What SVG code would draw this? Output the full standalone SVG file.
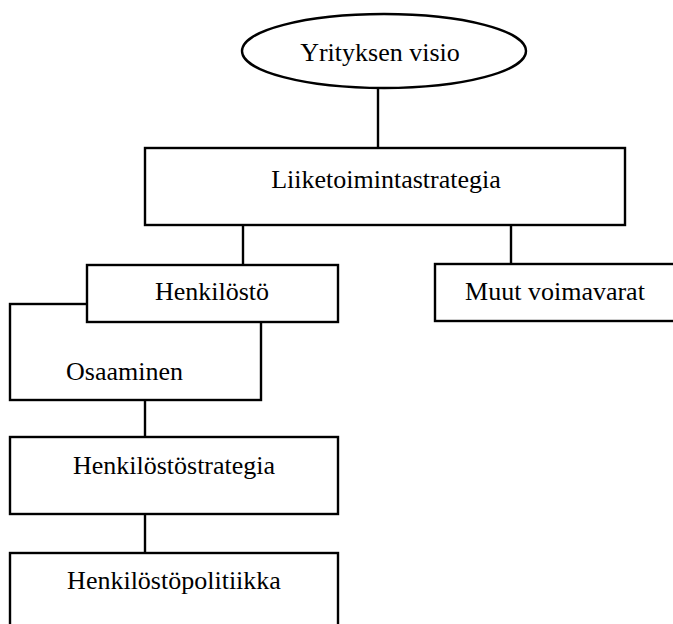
<svg xmlns="http://www.w3.org/2000/svg" width="673" height="624" viewBox="0 0 673 624">
  <style>
    .shape { fill: #ffffff; stroke: #000000; stroke-width: 2.4; }
    .label { font-family: "Liberation Serif", "Times New Roman", serif; font-size: 26px; fill: #000000; }
    .mid { text-anchor: middle; }
    .link { stroke: #000000; stroke-width: 2.4; fill: none; }
  </style>
  <rect width="673" height="624" fill="#ffffff"/>

  <!-- connectors -->
  <g id="connectors">
    <line class="link" x1="378" y1="88" x2="378" y2="148"/>
    <line class="link" x1="243" y1="225" x2="243" y2="265"/>
    <line class="link" x1="511" y1="225" x2="511" y2="264"/>
    <line class="link" x1="145" y1="400" x2="145" y2="437"/>
    <line class="link" x1="145" y1="514" x2="145" y2="553"/>
  </g>

  <g id="visio">
    <ellipse class="shape" cx="384" cy="51" rx="142" ry="37"/>
    <text class="label mid" x="380" y="61">Yrityksen visio</text>
  </g>

  <g id="liiketoimintastrategia">
    <rect class="shape" x="145" y="148" width="480" height="77"/>
    <text class="label mid" x="386" y="188">Liiketoimintastrategia</text>
  </g>

  <!-- Osaaminen sits partly behind Henkilöstö -->
  <g id="osaaminen">
    <rect class="shape" x="10" y="304" width="251" height="96"/>
    <text class="label" x="66" y="380">Osaaminen</text>
  </g>

  <g id="henkilosto">
    <rect class="shape" x="87" y="265" width="251" height="57"/>
    <text class="label mid" x="212" y="300">Henkilöstö</text>
  </g>

  <g id="muut-voimavarat">
    <rect class="shape" x="435" y="264" width="260" height="57"/>
    <text class="label mid" x="555" y="300">Muut voimavarat</text>
  </g>

  <g id="henkilostostrategia">
    <rect class="shape" x="10" y="437" width="328" height="77"/>
    <text class="label mid" x="174" y="474">Henkilöstöstrategia</text>
  </g>

  <g id="henkilostopolitiikka">
    <rect class="shape" x="10" y="553" width="328" height="90"/>
    <text class="label mid" x="174" y="589">Henkilöstöpolitiikka</text>
  </g>
</svg>
